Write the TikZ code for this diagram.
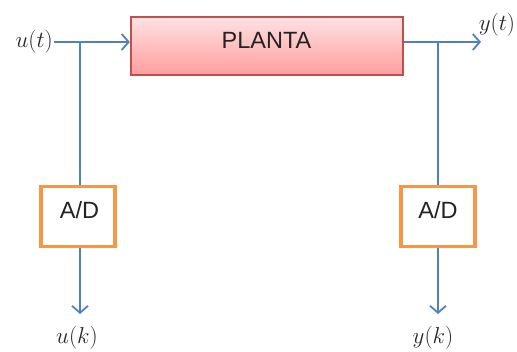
\RequirePackage{fix-cm}
\documentclass[tikz,border=0pt]{standalone}
\usepackage{fontspec}
\setsansfont{Liberation Sans}
\usetikzlibrary{arrows.meta}
\definecolor{wire}{RGB}{79,129,189}
\definecolor{adcedge}{RGB}{247,150,70}
\definecolor{plantedge}{RGB}{192,80,77}
\definecolor{planttop}{RGB}{255,226,226}
\definecolor{plantbot}{RGB}{255,158,158}
\definecolor{ink}{RGB}{35,35,35}
\tikzset{
  wireline/.style={draw=wire, line width=1.8pt},
  arrowed/.style={wireline, -{Straight Barb[length=7pt,width=16pt,line width=1.8pt]}},
  plantbox/.style={draw=plantedge, line width=2.2pt, top color=planttop, bottom color=plantbot,
    minimum width=272pt, minimum height=58pt, inner sep=0pt},
  adcbox/.style={draw=adcedge, line width=3.5pt, fill=white,
    minimum width=74pt, minimum height=60pt, inner sep=0pt},
  boxtext/.style={font=\sffamily\fontsize{23.5}{27}\selectfont, text=ink},
  signal/.style={font=\fontsize{23}{27}\selectfont, text=black!85}
}
\begin{document}
\begin{tikzpicture}[x=1pt,y=-1pt]
  \useasboundingbox (0,0) rectangle (517,352);

  % plant block and its title
  \node[plantbox] (plant) at (267,46) {};
  \node[boxtext] (plantlabel) at (266.5,40) {PLANTA};

  % sampling converters
  \node[adcbox] (adcin) at (78,216.5) {};
  \node[boxtext] (adcinlabel) at (79.5,210) {A/D};
  \node[adcbox] (adcout) at (438,216.5) {};
  \node[boxtext] (adcoutlabel) at (438,210) {A/D};

  % signal labels
  \node[signal, anchor=east, inner sep=1pt] (ut) at (54,42) {$u(t)$};
  \node[signal] (yt) at (497,25) {$y(t)$};
  \node[signal] (uk) at (77,338) {$u(k)$};
  \node[signal] (yk) at (433,338) {$y(k)$};

  % wiring points
  \coordinate (tapin) at (80,42);
  \coordinate (tapout) at (438,42);
  \coordinate (outend) at (481,42);
  \coordinate (ukend) at (80,314);
  \coordinate (ykend) at (438,314);

  % connectors
  \draw[arrowed] (ut.east) -- (plant.west |- ut.east);
  \draw[wireline] (tapin) -- (tapin |- adcin.north);
  \draw[wireline] (plant.east |- tapout) -- (tapout);
  \draw[arrowed] (tapout) -- (outend);
  \draw[wireline] (tapout) -- (adcout.north);
  \draw[arrowed] (tapin |- adcin.south) -- (ukend);
  \draw[arrowed] (adcout.south) -- (ykend);
\end{tikzpicture}
\end{document}
